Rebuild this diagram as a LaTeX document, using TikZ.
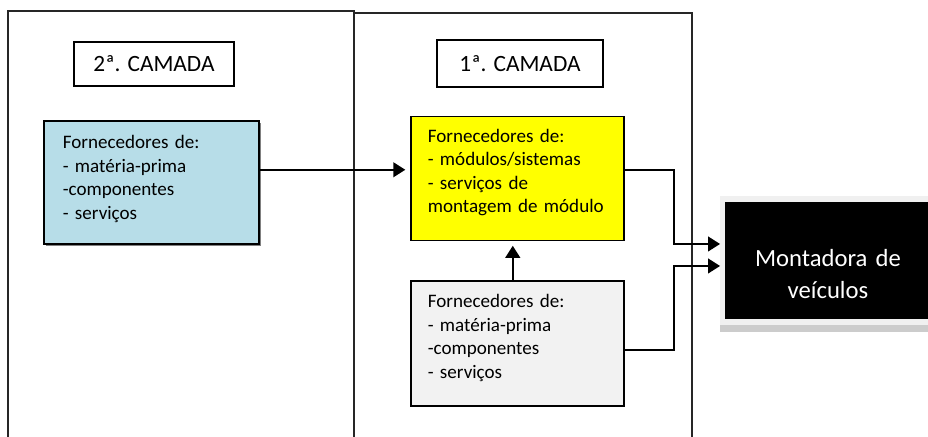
\documentclass[tikz,border=0pt]{standalone}
\usepackage{fontspec}
\setmainfont{Carlito}
\usetikzlibrary{positioning,arrows.meta,shadows,backgrounds}
\definecolor{myblue}{RGB}{183, 221, 232}
\definecolor{myyellow}{RGB}{255, 255, 0}
\definecolor{mygrey}{RGB}{242, 242, 242}
\definecolor{myshadow}{RGB}{128, 128, 128}
\newcommand*\supplierfont{\fontsize{14.3}{17.6}\selectfont}
\newcommand*\layerfont{\fontsize{17.5}{21}\selectfont}
\newcommand*\thesupplies{Fornecedores de:\\- matéria-prima\\-componentes\\- serviços}
\tikzstyle{frame}=[draw=black!85,line width=1pt,inner sep=0pt]
\tikzstyle{layer}=[draw,line width=1pt,inner sep=0pt,font=\layerfont]
\tikzstyle{supplier}=[draw,line width=1.2pt,anchor=north west,align=left,inner ysep=0pt,font=\supplierfont]
\tikzstyle{arr}=[-{Triangle[length=9pt,width=11pt]},line width=1.5pt,shorten >=3.5pt]

\begin{document}
\begin{tikzpicture}[x=0.75pt,y=-0.75pt]
      \useasboundingbox (0,0) rectangle (928,436);
      \clip (0,0) rectangle (928,436);
      \node (F2) [frame, minimum width=259.5pt, minimum height=329.25pt] at (181,230.5) {};
      \node (F1) [frame, minimum width=253.5pt, minimum height=327.75pt] at (523,231.5) {};
      \node (A) [layer, minimum width=120pt, minimum height=33pt] at (154,64) {2ª. CAMADA};
      \node (B) [layer, minimum width=124.5pt, minimum height=35.25pt] at (520,63.5) {1ª. CAMADA};
      \node (C) [supplier, fill=myblue, inner xsep=14.25pt, text width=132.75pt, text height=21pt, text depth=71.25pt,
        drop shadow={shadow xshift=2pt, shadow yshift=-2pt, fill=myshadow, opacity=1}] at (43,120) {\thesupplies};
      \node (D) [supplier, fill=myyellow, inner xsep=12.75pt, text width=134.25pt, text height=19.5pt, text depth=73.5pt]
        at (410,115.5) {Fornecedores de:\\- módulos/sistemas\\- serviços de\\montagem de módulo};
      \node (E) [supplier, fill=mygrey, below=29.25pt of D, inner xsep=12.75pt, text width=134.25pt, text height=20.25pt, text depth=73.5pt] {\thesupplies};
      \node (G) [fill=black, text=white, align=center, inner sep=0pt, text width=154.5pt, text height=48.5pt, text depth=39.25pt,
        font=\fontsize{18.5}{23.6}\selectfont] at (828,260.5) {Montadora de\\veículos};
      \begin{scope}[on background layer]
        \fill[black!6] ([shift={(-3.75pt,4.5pt)}]G.north west) rectangle ([shift={(3pt,-9.5pt)}]G.south east);
        \fill[black!20] ([shift={(-3.75pt,-4.5pt)}]G.south west) rectangle ([shift={(3pt,-9.5pt)}]G.south east);
      \end{scope}
      \draw[arr] ([yshift=9.4pt]C.east) coordinate (c) -- (c -| D.west);
      \draw[arr] ([xshift=-3.4pt]E.north) -- ([xshift=-3.4pt]D.south);
      \draw[arr] ([yshift=6pt]D.east) -- ++(36.75pt,0) |- ([yshift=12.4pt]G.west);
      \draw[arr] ([yshift=-4.9pt]E.east) -- ++(36.75pt,0) |- ([yshift=-4.1pt]G.west);
    \end{tikzpicture}
\end{document}
